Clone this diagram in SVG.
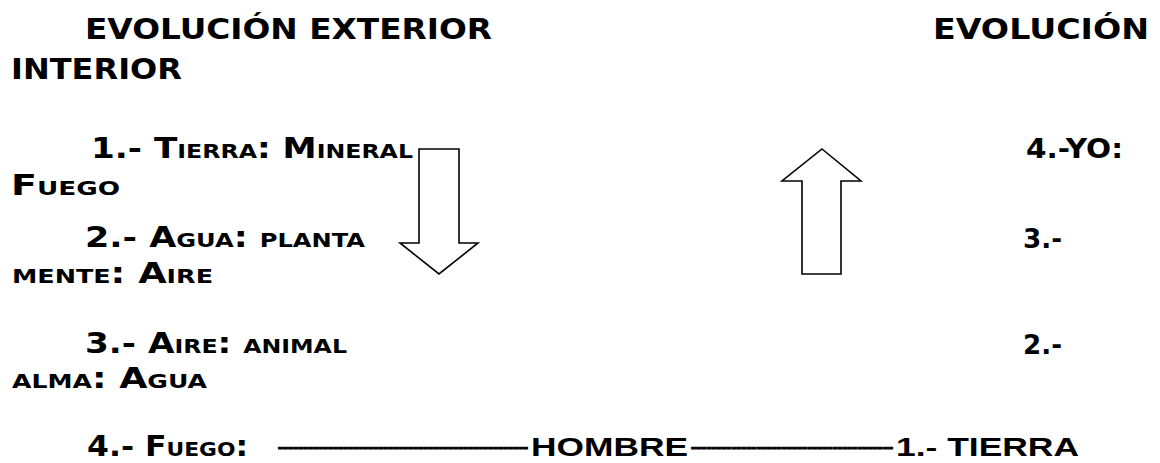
<svg xmlns="http://www.w3.org/2000/svg" width="1160" height="463" viewBox="0 0 1160 463">
<style>
.h{font-family:"DejaVu Sans","Liberation Sans",sans-serif;font-weight:bold;font-size:29px;fill:#000}
.sc{font-family:"DejaVu Sans","Liberation Sans",sans-serif;font-weight:bold;font-size:27.5px;font-variant:small-caps;fill:#000}
.n{font-family:"DejaVu Sans","Liberation Sans",sans-serif;font-weight:bold;font-size:26px;fill:#000}
.b{font-family:"Liberation Sans",sans-serif;font-weight:bold;font-size:26px;fill:#000}
.d{font-family:"Liberation Sans",sans-serif;font-weight:bold;font-size:15px;fill:#000;stroke:#000;stroke-width:1.2}
.arrow{fill:#fff;stroke:#000;stroke-width:1.6;stroke-linejoin:miter}
</style>
<rect width="1160" height="463" fill="#fff"/>
<g id="headers">
<text class="h" x="85" y="39" textLength="407" lengthAdjust="spacingAndGlyphs">EVOLUCIÓN EXTERIOR</text>
<text class="h" x="11" y="79" textLength="171" lengthAdjust="spacingAndGlyphs">INTERIOR</text>
<text class="h" x="933" y="39" textLength="216" lengthAdjust="spacingAndGlyphs">EVOLUCIÓN</text>
</g>
<g id="left-items">
<text class="sc" x="91" y="158" textLength="322" lengthAdjust="spacingAndGlyphs">1.- Tierra: Mineral</text>
<text class="sc" x="11" y="195" textLength="109" lengthAdjust="spacingAndGlyphs">Fuego</text>
<text class="sc" x="85" y="247" textLength="280" lengthAdjust="spacingAndGlyphs">2.- Agua: planta</text>
<text class="sc" x="12" y="283" textLength="201" lengthAdjust="spacingAndGlyphs">mente: Aire</text>
<text class="sc" x="85" y="353" textLength="262" lengthAdjust="spacingAndGlyphs">3.- Aire: animal</text>
<text class="sc" x="12" y="388" textLength="195" lengthAdjust="spacingAndGlyphs">alma: Agua</text>
</g>
<g id="right-items">
<text class="n" x="1026" y="158" textLength="97" lengthAdjust="spacingAndGlyphs">4.-YO:</text>
<text class="n" x="1023" y="248" textLength="39" lengthAdjust="spacingAndGlyphs">3.-</text>
<text class="n" x="1023" y="354" textLength="39" lengthAdjust="spacingAndGlyphs">2.-</text>
</g>
<g id="bottom-line">
<text class="sc" x="87" y="456" textLength="161" lengthAdjust="spacingAndGlyphs">4.- Fuego:</text>
<text class="d" x="278" y="452" textLength="250" lengthAdjust="spacingAndGlyphs">--------------------------------------------------</text>
<text class="b" x="531" y="456" textLength="157" lengthAdjust="spacingAndGlyphs">HOMBRE</text>
<text class="d" x="691" y="452" textLength="202" lengthAdjust="spacingAndGlyphs">----------------------------------------</text>
<text class="b" x="896" y="456" textLength="183" lengthAdjust="spacingAndGlyphs">1.- TIERRA</text>
</g>
<g id="connectors">
<polygon id="arrow-down" class="arrow" points="419,149 459,149 459,243 478,243 439,274 400,243 419,243"/>
<polygon id="arrow-up" class="arrow" points="822,149 861,181 841,181 841,274 802,274 802,181 782,181"/>
</g>
</svg>
